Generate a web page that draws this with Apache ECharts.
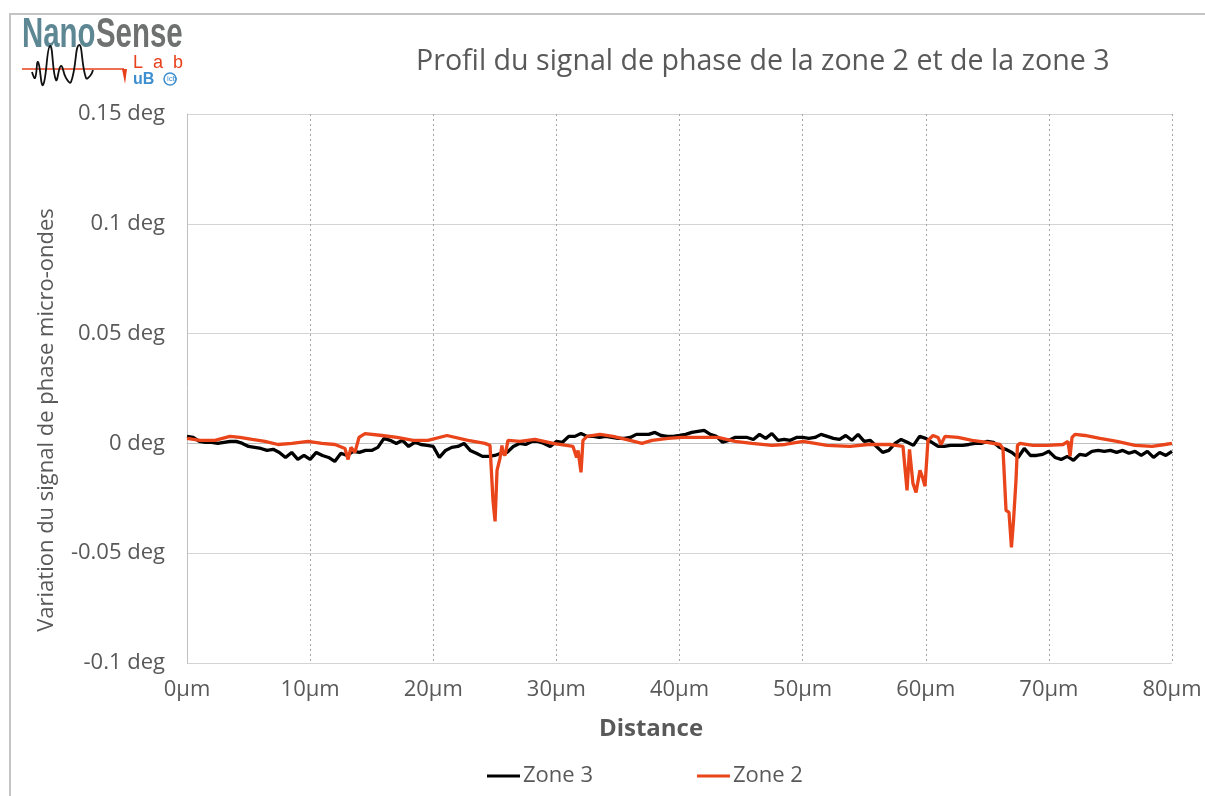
<!DOCTYPE html>
<html>
<head>
<meta charset="utf-8">
<title>Profil du signal de phase</title>
<script src="https://cdn.jsdelivr.net/npm/echarts@6/dist/echarts.min.js"></script>
<style>
  html, body { margin: 0; padding: 0; background: #ffffff; }
  #chart { width: 1205px; height: 796px; }
</style>
</head>
<body>
<div id="chart"></div>
<script>
// Tick values of the two axes
const distanceTicks = [0, 10, 20, 30, 40, 50, 60, 70, 80];
const phaseTicks = [-0.1, -0.05, 0, 0.05, 0.1, 0.15];

// Zone 3 profile: one sample every 0.5 µm from 0 to 80 µm (deg)
const zone3Step = 0.5;
const zone3Phase = [
  0.0032, 0.0027, 0.0009, 0.0005, 0.0005, 0, 0.0005, 0.0009, 0.0009, 0,
  -0.0014, -0.0018, -0.0023, -0.0032, -0.0027, -0.0041, -0.0064, -0.0041, -0.0073, -0.0055,
  -0.0073, -0.0041, -0.0055, -0.0064, -0.0082, -0.0045, -0.0055, -0.0036, -0.0041, -0.0032,
  -0.0032, -0.0018, 0.0023, 0.0014, 0, 0.0014, -0.0014, 0.0005, -0.0005, -0.0009,
  -0.0014, -0.0064, -0.0032, -0.0018, -0.0014, 0, -0.0032, -0.0045, -0.0059, -0.0059,
  -0.0055, -0.0045, -0.0041, -0.0014, 0, -0.0005, 0.0009, 0.0009, 0, -0.0014,
  0.0009, 0.0005, 0.0032, 0.0032, 0.0045, 0.0032, 0.0032, 0.0027, 0.0032, 0.0027,
  0.0023, 0.0023, 0.0027, 0.0041, 0.0041, 0.0041, 0.0050, 0.0036, 0.0032, 0.0032,
  0.0036, 0.0041, 0.0050, 0.0055, 0.0059, 0.0041, 0.0032, 0.0005, 0.0014, 0.0027,
  0.0027, 0.0027, 0.0018, 0.0041, 0.0023, 0.0045, 0.0014, 0.0018, 0.0014, 0.0027,
  0.0027, 0.0023, 0.0027, 0.0041, 0.0032, 0.0023, 0.0018, 0.0036, 0.0014, 0.0041,
  0.0009, 0.0014, -0.0014, -0.0041, -0.0032, 0, 0.0018, 0.0005, -0.0009, 0.0032,
  0.0023, 0.0005, -0.0014, -0.0014, -0.0009, -0.0009, -0.0009, -0.0005, 0, 0,
  0.0009, 0.0005, -0.0018, -0.0027, -0.0041, -0.0064, -0.0023, -0.0055, -0.0055, -0.0050,
  -0.0036, -0.0064, -0.0073, -0.0059, -0.0077, -0.0050, -0.0055, -0.0036, -0.0032, -0.0036,
  -0.0032, -0.0041, -0.0032, -0.0045, -0.0036, -0.0055, -0.0036, -0.0064, -0.0041, -0.0055,
  -0.0036
];

// Zone 2 profile: positions (µm) and phase (deg)
const zone2Distance = [
  0, 1.06, 2.27, 3.49, 4.3, 5.28, 6.33, 7.39, 8.53, 9.83,
  10.96, 12.02, 12.83, 13.08, 13.32, 13.64, 13.97, 14.46, 15.84, 17.06,
  18.36, 19.57, 21.12, 22.82, 24.2, 24.61, 24.85, 25.02, 25.18, 25.42,
  25.58, 25.66, 25.83, 26.07, 27.05, 28.26, 29.73, 31.35, 31.64, 31.76,
  32.0, 32.16, 32.49, 33.54, 34.6, 35.98, 36.95, 37.77, 39.07, 40.2,
  41.83, 43.13, 44.51, 45.89, 47.51, 48.57, 50.03, 51.98, 53.85, 55.31,
  57.1, 58.15, 58.31, 58.48, 58.68, 58.96, 59.21, 59.53, 59.74, 59.94,
  60.18, 60.59, 61.0, 61.24, 61.56, 62.62, 63.76, 64.97, 66.03, 66.27,
  66.52, 66.76, 66.96, 67.13, 67.33, 67.45, 67.65, 68.71, 69.85, 71.15,
  71.55, 71.72, 71.88, 72.12, 72.93, 74.15, 75.53, 77.0, 78.38, 79.43,
  80
];
const zone2Phase = [
  0.0023, 0.0014, 0.0014, 0.0032, 0.0027, 0.0018, 0.0009, -0.0005, 0, 0.0009,
  0, -0.0005, -0.0023, -0.0073, -0.0018, -0.0041, 0.0027, 0.0045, 0.0036, 0.0027,
  0.0014, 0.0014, 0.0036, 0.0014, 0, -0.0009, -0.0259, -0.0355, -0.0123, -0.0068,
  -0.0009, -0.0045, -0.0055, 0.0014, 0.0009, 0.0018, 0, -0.0014, -0.0064, -0.0032,
  -0.0132, 0.0014, 0.0032, 0.0041, 0.0032, 0.0014, 0, 0.0014, 0.0023, 0.0027,
  0.0027, 0.0027, 0.0009, 0, -0.0009, -0.0005, 0.0009, -0.0009, -0.0014, -0.0005,
  -0.0005, -0.0014, -0.0023, -0.0214, -0.0027, -0.0182, -0.0223, -0.0123, -0.0155, -0.0195,
  0.0014, 0.0036, 0.0027, -0.0005, 0.0032, 0.0027, 0.0014, 0.0005, -0.0005, -0.0023,
  -0.0305, -0.0314, -0.0473, -0.0350, -0.0168, -0.0009, 0, -0.0009, -0.0009, -0.0005,
  0.0009, -0.0059, 0.0027, 0.0041, 0.0036, 0.0023, 0.0009, -0.0009, -0.0014, -0.0005,
  0
];

const zone3Data = zone3Phase.map((v, i) => [i * zone3Step, v]);
const zone2Data = zone2Distance.map((d, i) => [d, zone2Phase[i]]);

const textColor = '#595959';
const fontFamily = 'Open Sans, Noto Sans, sans-serif';

const chart = echarts.init(document.getElementById('chart'), null, { renderer: 'canvas' });

function phaseLabel(v) {
  return (+v.toFixed(2)) + ' deg';
}

const option = {
  animation: false,
  backgroundColor: '#ffffff',
  textStyle: { fontFamily: fontFamily },
  title: {
    text: 'Profil du signal de phase de la zone 2 et de la zone 3',
    left: 411,
    top: 42,
    textStyle: { color: textColor, fontSize: 28.6, fontWeight: 'normal', fontFamily: fontFamily }
  },
  legend: {
    left: 482,
    top: 760,
    itemGap: 104,
    itemWidth: 33,
    itemHeight: 3,
    icon: 'rect',
    textStyle: { color: textColor, fontSize: 22, fontFamily: fontFamily, padding: [0, 0, 0, -2] },
    data: ['Zone 3', 'Zone 2']
  },
  grid: { left: 187, right: 33, top: 114, bottom: 133, containLabel: false },
  xAxis: {
    type: 'value',
    min: distanceTicks[0],
    max: distanceTicks[distanceTicks.length - 1],
    interval: distanceTicks[1] - distanceTicks[0],
    axisLine: { show: true, lineStyle: { color: '#bfbfbf', width: 1 } },
    axisTick: { show: false },
    axisLabel: { color: textColor, fontSize: 22, margin: 16, formatter: '{value}µm', fontFamily: fontFamily },
    splitLine: { show: true, lineStyle: { color: '#a6a6a6', type: [2, 3], width: 1 } }
  },
  yAxis: {
    type: 'value',
    min: phaseTicks[0],
    max: phaseTicks[phaseTicks.length - 1],
    interval: phaseTicks[1] - phaseTicks[0],
    axisLine: { show: true, lineStyle: { color: '#bfbfbf', width: 1 } },
    axisTick: { show: false },
    axisLabel: { color: textColor, fontSize: 22, margin: 22, formatter: phaseLabel, fontFamily: fontFamily },
    splitLine: { show: true, lineStyle: { color: '#d4d4d4', width: 1 } }
  },
  series: [
    {
      name: 'Zone 3',
      type: 'line',
      data: zone3Data,
      showSymbol: false,
      symbol: 'none',
      color: '#000000',
      lineStyle: { color: '#000000', width: 3.3 },
      z: 2
    },
    {
      name: 'Zone 2',
      type: 'line',
      data: zone2Data,
      showSymbol: false,
      symbol: 'none',
      color: '#e9441a',
      lineStyle: { color: '#e9441a', width: 3.3 },
      z: 3
    }
  ],
  graphic: [
    // outer frame
    {
      type: 'polyline',
      silent: true,
      shape: { points: [[10, 796], [10, 14], [1205, 14]] },
      style: { stroke: '#c4c4c4', lineWidth: 2, fill: null }
    },
    // axis titles
    {
      type: 'text',
      silent: true,
      x: 47, y: 420,
      rotation: Math.PI / 2,
      style: {
        text: 'Variation du signal de phase micro-ondes',
        font: '22px "Open Sans", "Noto Sans", sans-serif',
        fill: textColor, align: 'center', verticalAlign: 'middle'
      }
    },
    {
      type: 'text',
      silent: true,
      x: 651, y: 729,
      style: {
        text: 'Distance',
        font: 'bold 24px "Open Sans", "Noto Sans", sans-serif',
        fill: textColor, align: 'center', verticalAlign: 'middle'
      }
    },
    // NanoSense Lab logo
    {
      type: 'group',
      silent: true,
      children: [
        {
          type: 'text',
          x: 22, y: 14,
          scaleX: 0.70,
          style: {
            text: 'Nano', font: 'bold 42px "Liberation Sans", Arial, sans-serif',
            fill: '#5e8794', shadowBlur: 4, shadowColor: 'rgba(120,170,190,0.8)'
          }
        },
        {
          type: 'text',
          x: 96, y: 14,
          scaleX: 0.70,
          style: {
            text: 'Sense', font: 'bold 42px "Liberation Sans", Arial, sans-serif',
            fill: '#6f7070', shadowBlur: 3, shadowColor: 'rgba(150,150,150,0.6)'
          }
        },
        {
          type: 'line',
          shape: { x1: 22, y1: 69, x2: 124, y2: 69 },
          style: { stroke: '#e8401c', lineWidth: 1.5 }
        },
        {
          type: 'polygon',
          shape: { points: [[122, 69], [127, 69], [125, 84]] },
          style: { fill: '#e8401c' }
        },
        {
          type: 'polyline',
          shape: {
            points: [[32, 72], [35, 78], [38, 62], [43, 85], [50, 46], [56, 80],
                     [61, 66], [66, 78], [71, 82], [79, 45], [86, 78], [90, 76], [93, 70]],
            smooth: 0.5
          },
          style: { stroke: '#111111', lineWidth: 1.8, fill: null }
        },
        {
          type: 'text',
          x: 133, y: 54,
          style: { text: 'L  a  b', font: '18px "Liberation Sans", Arial, sans-serif', fill: '#e8401c' }
        },
        {
          type: 'text',
          x: 133, y: 72,
          style: { text: 'uB', font: 'bold 16px "Liberation Sans", Arial, sans-serif', fill: '#3d8fd0' }
        },
        {
          type: 'circle',
          shape: { cx: 170, cy: 79, r: 6 },
          style: { fill: null, stroke: '#3d8fd0', lineWidth: 1.5 }
        },
        {
          type: 'text',
          x: 167, y: 75,
          style: { text: 'icb', font: '8px "Liberation Sans", Arial, sans-serif', fill: '#3d8fd0' }
        }
      ]
    }
  ]
};

chart.setOption(option);
</script>
</body>
</html>
